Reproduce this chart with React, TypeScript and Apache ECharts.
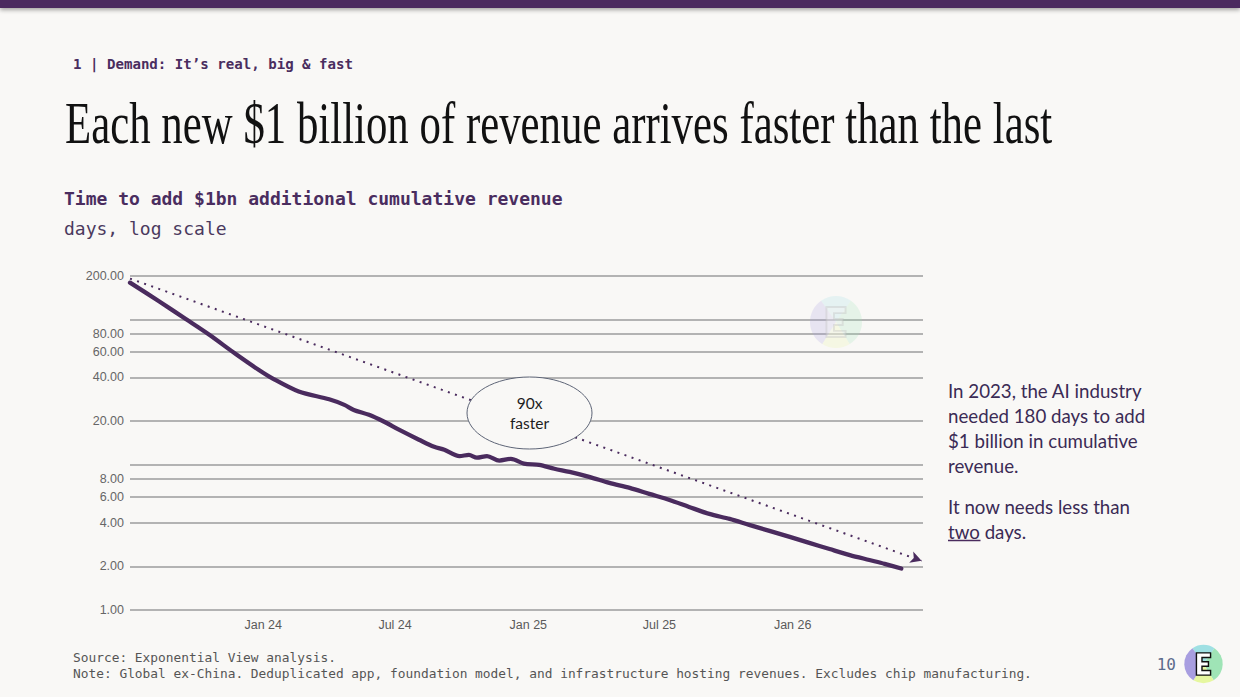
import React, { useEffect, useRef } from "react";
import * as echarts from "echarts";

// ---------- data ----------
const DATES = [
  "2023-07-01", "2023-08-10", "2023-09-16", "2023-10-18", "2023-11-24", "2023-12-26",
  "2024-01-13", "2024-02-19", "2024-04-01", "2024-04-22", "2024-05-05", "2024-05-26",
  "2024-06-16", "2024-07-07", "2024-08-03", "2024-08-24", "2024-09-07", "2024-09-28",
  "2024-10-11", "2024-10-22", "2024-11-05", "2024-11-22", "2024-12-08", "2024-12-26",
  "2025-01-16", "2025-02-06", "2025-02-27", "2025-03-26", "2025-04-23", "2025-05-21",
  "2025-06-17", "2025-07-15", "2025-08-11", "2025-09-08", "2025-10-06", "2025-11-02",
  "2025-11-30", "2025-12-28", "2026-01-24", "2026-02-21", "2026-03-21", "2026-04-17",
  "2026-05-08", "2026-05-31",
];
const DAYS = [
  180, 134, 101, 79, 58, 45,
  39.6, 32.0, 28.3, 25.9, 23.9, 22.1,
  19.8, 17.4, 14.9, 13.3, 12.7, 11.5,
  11.7, 11.2, 11.5, 10.7, 11.0, 10.2,
  10.0, 9.4, 8.95, 8.27, 7.51, 6.94,
  6.31, 5.73, 5.13, 4.59, 4.24, 3.86,
  3.51, 3.19, 2.9, 2.63, 2.39, 2.21,
  2.08, 1.93,
];
const TREND_START_DATE = "2023-07-01";
const TREND_START_VALUE = 192;
const TREND_END_DATE = "2026-06-28";
const TREND_END_VALUE = 2.18;
const GRID_VALUES = [1, 2, 4, 6, 8, 10, 20, 40, 60, 80, 100, 200];
const LABELLED_VALUES = [1, 2, 4, 6, 8, 20, 40, 60, 80, 200];
const X_TICKS = ["2024-01-01", "2024-07-01", "2025-01-01", "2025-07-01", "2026-01-01"];
const X_MIN = "2023-07-01";
const X_MAX = "2026-06-30";
const MONTHS = ["Jan", "Feb", "Mar", "Apr", "May", "Jun", "Jul", "Aug", "Sep", "Oct", "Nov", "Dec"];

const SECTION = "1 | Demand: It\u2019s real, big & fast";
const TITLE = "Each new $1 billion of revenue arrives faster than the last";
const CHART_TITLE = "Time to add $1bn additional cumulative revenue";
const CHART_SUBTITLE = "days, log scale";
const ANNOTATION = ["90x", "faster"];
const SIDE_TEXT = [
  "In 2023, the AI industry",
  "needed 180 days to add",
  "$1 billion in cumulative",
  "revenue.",
];
const SIDE_TEXT_2 = ["It now needs less than", "two days."];
const SOURCE = "Source: Exponential View analysis.";
const NOTE =
  "Note: Global ex-China. Deduplicated app, foundation model, and infrastructure hosting revenues. Excludes chip manufacturing.";
const PAGE = "10";

// ---------- helpers ----------
const ts = (s: string) => {
  const [y, m, d] = s.split("-").map(Number);
  return new Date(y, m - 1, d).getTime();
};

const PURPLE = "#4a2b5e";
const BG = "#f9f8f6";
const MONO = "'DejaVu Sans Mono', 'Liberation Mono', monospace";
const SANS = "Lato, 'Noto Sans', sans-serif";
const ARIAL = "'Liberation Sans', Arial, sans-serif";

const deg = (a: number) => (a * Math.PI) / 180;

function logo(cx: number, cy: number, r: number, opacity: number, eFill: string, eStroke: string, z: number) {
  const sectors = [
    { s: -125, e: -55, c: "#9fe0e3" },
    { s: -55, e: 58, c: "#9fe4b6" },
    { s: 58, e: 122, c: "#e6f7a0" },
    { s: 122, e: 235, c: "#a89ee0" },
  ];
  const k = r / 19;
  const w = 14 * k, h = 22 * k, t = 4.5 * k, sp = 5.5 * k;
  const x0 = cx - w / 2, y0 = cy - h / 2, x1 = cx + w / 2, y1 = cy + h / 2;
  const ym = cy;
  const pts = [
    [x0, y0], [x1, y0], [x1, y0 + t], [x0 + sp, y0 + t], [x0 + sp, ym - t / 2],
    [x0 + w * 0.85, ym - t / 2], [x0 + w * 0.85, ym + t / 2], [x0 + sp, ym + t / 2],
    [x0 + sp, y1 - t], [x1, y1 - t], [x1, y1], [x0, y1],
  ];
  return {
    type: "group",
    z,
    children: [
      ...sectors.map((q) => ({
        type: "sector",
        z,
        shape: { cx, cy, r, r0: 0, startAngle: deg(q.s), endAngle: deg(q.e), clockwise: true },
        style: { fill: q.c, opacity },
      })),
      {
        type: "polygon",
        z: z + 1,
        shape: { points: pts },
        style: { fill: eFill, stroke: eStroke, lineWidth: 1.4 * k, opacity: opacity < 1 ? opacity * 1.6 : 1 },
      },
    ],
  };
}

function txt(x: number, y: number, text: string, font: string, fill: string, align = "left", extra: any = {}) {
  return {
    type: "text",
    x,
    y,
    z: 100,
    ...extra,
    style: {
      text,
      font,
      fill,
      align,
      textAlign: align,
      verticalAlign: "middle",
      textVerticalAlign: "middle",
    },
  };
}

export default function App() {
  const ref = useRef<HTMLDivElement>(null);

  useEffect(() => {
    document.body.style.margin = "0";
    document.body.style.background = BG;
    if (!ref.current) return;
    const chart = echarts.init(ref.current, null, { renderer: "svg" });

    const lineData = DATES.map((d, i) => [ts(d), DAYS[i]]);

    const option: any = {
      animation: false,
      backgroundColor: BG,
      grid: { left: 130, right: 317, top: 276, bottom: 87, containLabel: false },
      xAxis: {
        type: "value",
        min: ts(X_MIN),
        max: ts(X_MAX),
        scale: true,
        axisLine: { show: false },
        axisTick: { show: false },
        splitLine: { show: false },
        axisLabel: {
          customValues: X_TICKS.map(ts),
          formatter: (v: number) => {
            const d = new Date(v);
            return MONTHS[d.getMonth()] + " " + String(d.getFullYear()).slice(2);
          },
          color: "#5a5a5a",
          fontSize: 12.5,
          fontFamily: ARIAL,
          margin: 8,
          hideOverlap: false,
        },
      },
      yAxis: {
        type: "log",
        logBase: 10,
        min: 1,
        max: 200,
        axisLine: { show: false },
        axisTick: { show: false },
        axisLabel: { show: false },
        splitLine: { show: false },
      },
      series: [
        {
          type: "line",
          name: "days",
          data: lineData,
          symbol: "none",
          showSymbol: false,
          smooth: 0.3,
          z: 3,
          lineStyle: { color: PURPLE, width: 4.3, cap: "round", join: "round" },
          markLine: {
            silent: true,
            animation: false,
            z: 1,
            symbol: ["none", "none"],
            lineStyle: { color: "#b3b3b3", width: 1.8, type: "solid" },
            emphasis: { disabled: true },
            label: {
              show: true,
              position: "start",
              distance: 6,
              color: "#666666",
              fontSize: 12.5,
              fontFamily: ARIAL,
              formatter: (p: any) =>
                LABELLED_VALUES.indexOf(p.value) >= 0 ? Number(p.value).toFixed(2) : "",
            },
            data: GRID_VALUES.map((v) => ({ yAxis: v })),
          },
        },
        {
          type: "line",
          name: "trend",
          data: [
            [ts(TREND_START_DATE), TREND_START_VALUE],
            [ts(TREND_END_DATE), TREND_END_VALUE],
          ],
          symbol: "none",
          showSymbol: false,
          z: 4,
          lineStyle: { opacity: 0, width: 0 },
          markLine: {
            silent: true,
            animation: false,
            z: 4,
            symbol: ["none", "arrow"],
            symbolSize: [9, 11],
            label: { show: false },
            emphasis: { disabled: true },
            lineStyle: { color: PURPLE, width: 2, type: [2, 5.5] },
            itemStyle: { color: PURPLE },
            data: [
              [
                { coord: [ts(TREND_START_DATE), TREND_START_VALUE] },
                { coord: [ts(TREND_END_DATE), TREND_END_VALUE] },
              ],
            ],
          },
        },
      ],
      graphic: [
        {
          type: "rect",
          z: 200,
          shape: { x: 0, y: 0, width: 1240, height: 8 },
          style: { fill: "#4b2c5e", shadowColor: "rgba(0,0,0,0.35)", shadowBlur: 4, shadowOffsetY: 2 },
        },
        txt(73, 64, SECTION, `bold 14.1px ${MONO}`, "#4a2d5f"),
        txt(65, 123, TITLE, `60px 'Liberation Serif', 'DejaVu Serif', serif`, "#111111", "left", {
          scaleX: 0.714,
        }),
        txt(64, 198, CHART_TITLE, `bold 18px ${MONO}`, "#4a2d5f"),
        txt(64, 228, CHART_SUBTITLE, `18px ${MONO}`, "#4b3a5e"),
        logo(836, 322, 26, 0.22, "#f4f4f4", "#bdbdbd", 50),
        {
          type: "ellipse",
          z: 100,
          shape: { cx: 529.5, cy: 413, rx: 62.5, ry: 36 },
          style: { fill: BG, stroke: "#5e6577", lineWidth: 1 },
        },
        { ...txt(529.5, 403, ANNOTATION[0], `15.5px ${SANS}`, "#1e1e1e", "center"), z: 101 },
        { ...txt(529.5, 423, ANNOTATION[1], `15.5px ${SANS}`, "#1e1e1e", "center"), z: 101 },
        ...SIDE_TEXT.map((s, i) => txt(948, 391 + i * 25, s, `18.7px ${SANS}`, "#3b2b55")),
        ...SIDE_TEXT_2.map((s, i) => txt(948, 507 + i * 25, s, `18.7px ${SANS}`, "#3b2b55")),
        {
          type: "line",
          z: 100,
          shape: { x1: 948, y1: 540.5, x2: 980.5, y2: 540.5 },
          style: { stroke: PURPLE, lineWidth: 1.6 },
        },
        txt(73, 657, SOURCE, `12.85px ${MONO}`, "#555555"),
        txt(73, 673, NOTE, `12.85px ${MONO}`, "#555555"),
        txt(1176, 664, PAGE, `16px ${MONO}`, "#5c6b8c", "right"),
        logo(1203.5, 664, 19.2, 1, "#ffffff", "#111111", 120),
      ],
    };

    chart.setOption(option);
    return () => chart.dispose();
  }, []);

  return (
    <div
      ref={ref}
      style={{ position: "absolute", left: 0, top: 0, width: 1240, height: 697, background: BG }}
    />
  );
}
